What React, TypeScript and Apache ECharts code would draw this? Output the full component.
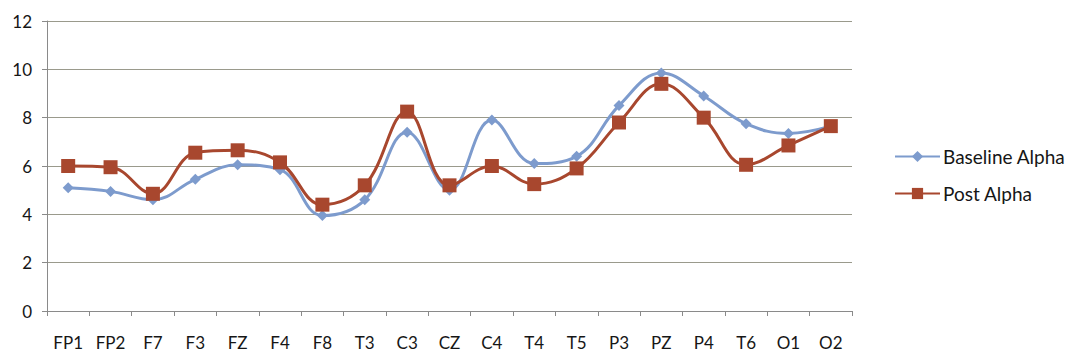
import React, { useEffect, useRef } from "react";
import * as echarts from "echarts";

// EEG electrode sites
const electrodes = [
  "FP1", "FP2", "F7", "F3", "FZ", "F4", "F8", "T3", "C3", "CZ",
  "C4", "T4", "T5", "P3", "PZ", "P4", "T6", "O1", "O2",
];

// Mean alpha power per site
const baselineAlpha = [
  5.1, 4.95, 4.6, 5.45, 6.05, 5.85, 3.95, 4.6, 7.4, 5.0,
  7.9, 6.1, 6.4, 8.5, 9.85, 8.9, 7.75, 7.35, 7.65,
];
const postAlpha = [
  6.0, 5.95, 4.85, 6.55, 6.65, 6.15, 4.4, 5.2, 8.25, 5.2,
  6.0, 5.25, 5.9, 7.8, 9.4, 8.0, 6.05, 6.85, 7.65,
];

const yTicks = { min: 0, max: 12, interval: 2 };

const FONT = "Lato, 'Open Sans', sans-serif";
const TEXT = "#161616";
const BLUE = "#7d9bcd";
const RED = "#a8472e";
const AXIS = "#8a8a8a";

export default function App() {
  const ref = useRef<HTMLDivElement>(null);

  useEffect(() => {
    if (!ref.current) return;
    const chart = echarts.init(ref.current, undefined, { renderer: "svg" });
    chart.setOption({
      animation: false,
      backgroundColor: "#ffffff",
      textStyle: { fontFamily: FONT },
      grid: { left: 47, right: 213, top: 21, bottom: 47, containLabel: false },
      legend: {
        orient: "vertical",
        left: 889,
        top: 142,
        itemWidth: 45,
        itemHeight: 14,
        itemGap: 18,
        textStyle: { fontFamily: FONT, fontSize: 19, color: TEXT, padding: [0, 0, 0, -2] },
        data: ["Baseline Alpha", "Post Alpha"],
      },
      xAxis: {
        type: "category",
        data: electrodes,
        boundaryGap: true,
        axisLine: { lineStyle: { color: AXIS, width: 1 } },
        axisTick: { show: true, length: 5, lineStyle: { color: AXIS } },
        axisLabel: { fontFamily: FONT, fontSize: 17, color: TEXT, margin: 23, interval: 0 },
        splitLine: { show: false },
      },
      yAxis: {
        type: "value",
        min: yTicks.min,
        max: yTicks.max,
        interval: yTicks.interval,
        axisLine: { show: true, lineStyle: { color: AXIS, width: 1 } },
        axisTick: { show: true, length: 5, lineStyle: { color: AXIS } },
        axisLabel: { fontFamily: FONT, fontSize: 17, color: TEXT, margin: 15 },
        splitLine: { show: true, lineStyle: { color: "#9a9a8c", width: 1 } },
      },
      series: [
        {
          name: "Baseline Alpha",
          type: "line",
          data: baselineAlpha,
          smooth: 0.4,
          symbol: "diamond",
          symbolSize: 11,
          itemStyle: { color: BLUE },
          lineStyle: { color: BLUE, width: 3 },
        },
        {
          name: "Post Alpha",
          type: "line",
          data: postAlpha,
          smooth: 0.4,
          symbol: "rect",
          symbolSize: 14,
          itemStyle: { color: RED },
          lineStyle: { color: RED, width: 3 },
        },
      ],
    });
    return () => chart.dispose();
  }, []);

  return (
    <div
      ref={ref}
      style={{ position: "fixed", left: 0, top: 0, width: 1065, height: 358, background: "#fff" }}
    />
  );
}
